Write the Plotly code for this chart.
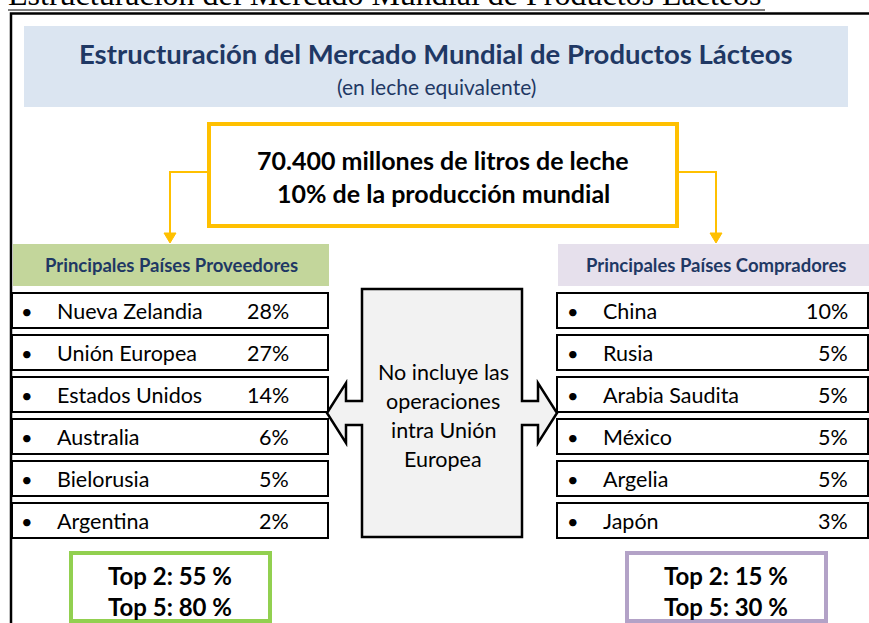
import plotly.graph_objects as go

# ---- data ----
page_title = "Estructuración del Mercado Mundial de Productos Lácteos"
band_title = "Estructuración del Mercado Mundial de Productos Lácteos"
band_subtitle = "(en leche equivalente)"
volume_lines = ["70.400 millones de litros de leche", "10% de la producción mundial"]
supplier_header = "Principales Países Proveedores"
buyer_header = "Principales Países Compradores"
suppliers = ["Nueva Zelandia", "Unión Europea", "Estados Unidos", "Australia", "Bielorusia", "Argentina"]
supplier_share = [28, 27, 14, 6, 5, 2]
buyers = ["China", "Rusia", "Arabia Saudita", "México", "Argelia", "Japón"]
buyer_share = [10, 5, 5, 5, 5, 3]
center_note = ["No incluye las", "operaciones", "intra Unión", "Europea"]
supplier_top = [("Top 2", 55), ("Top 5", 80)]
buyer_top = [("Top 2", 15), ("Top 5", 30)]

W, H = 869, 623
FONT = "Lato"
NAVY = "#1f3864"
YELLOW = "#ffc000"

shapes = []
ann = []

def rect(x0, y0, x1, y1, fill="rgba(0,0,0,0)", line="black", lw=2):
    shapes.append(dict(type="rect", x0=x0, y0=y0, x1=x1, y1=y1, xref="x", yref="y",
                       fillcolor=fill, line=dict(color=line, width=lw), layer="below"))

def path(d, fill="rgba(0,0,0,0)", line="black", lw=2):
    shapes.append(dict(type="path", path=d, xref="x", yref="y",
                       fillcolor=fill, line=dict(color=line, width=lw), layer="below"))

def text(x, y, t, size, color="black", bold=False, xa="center", ya="middle", family=FONT):
    ann.append(dict(x=x, y=y, xref="x", yref="y", text=(f"<b>{t}</b>" if bold else t),
                    showarrow=False, xanchor=xa, yanchor=ya,
                    font=dict(family=family, size=size, color=color)))

# page heading (serif, underlined, clipped at top)
text(6, 14, page_title, 32, family="Liberation Serif", xa="left", ya="bottom")
path("M 8 10 L 765 10", lw=1)

# outer frame
path(f"M 11 {H + 5} L 11 13.5 L {W + 5} 13.5", lw=2.5)

# title band
rect(24, 26, 848, 107, fill="#dbe5f1", line="#dbe5f1", lw=0)
text(436, 53, band_title, 27.5, color=NAVY, bold=True)
text(436, 86, band_subtitle, 21, color=NAVY)

# yellow volume box
rect(209, 124, 677, 226, fill="white", line=YELLOW, lw=4)
text(443, 160, volume_lines[0], 25, bold=True)
text(443, 193, volume_lines[1], 25, bold=True)

# connectors
path("M 209 172 L 170 172 L 170 234", line=YELLOW, lw=2)
path("M 164 233 L 176 233 L 170 243 Z", fill=YELLOW, line=YELLOW, lw=1)
path("M 677 172 L 716 172 L 716 234", line=YELLOW, lw=2)
path("M 710 233 L 722 233 L 716 243 Z", fill=YELLOW, line=YELLOW, lw=1)

# headers
rect(13, 244, 329, 286, fill="#c3d69b", line="#c3d69b", lw=0)
text(171, 265, supplier_header, 18.5, color=NAVY, bold=True)
rect(558, 244, W + 5, 286, fill="#e6e0ec", line="#e6e0ec", lw=0)
text(716, 265, buyer_header, 18.5, color=NAVY, bold=True)

# rows
ROW_TOP, PITCH, ROW_H = 293, 42, 35
for i, (name, v) in enumerate(zip(suppliers, supplier_share)):
    y0 = ROW_TOP + PITCH * i
    rect(12, y0, 328, y0 + ROW_H)
    yc = y0 + ROW_H / 2
    text(27, yc, "•", 20)
    text(55, yc, name, 21.5, xa="left")
    text(291, yc, f"{v}%", 21.5, xa="right")
for i, (name, v) in enumerate(zip(buyers, buyer_share)):
    y0 = ROW_TOP + PITCH * i
    rect(557, y0, 868, y0 + ROW_H)
    yc = y0 + ROW_H / 2
    text(573, yc, "•", 20)
    text(601, yc, name, 21.5, xa="left")
    text(850, yc, f"{v}%", 21.5, xa="right")

# center double arrow box
path("M 362 289 L 522 289 L 522 401 L 538 401 L 538 383 L 557 413 L 538 443 L 538 425 "
     "L 522 425 L 522 537 L 362 537 L 362 425 L 346 425 L 346 443 L 327 413 L 346 383 "
     "L 346 401 L 362 401 Z", fill="#f2f2f2", lw=2.5)
for k, line in enumerate(center_note):
    text(443, 372 + 29 * k, line, 21.5)

# top boxes
rect(71, 553, 270, 621, fill="white", line="#92d050", lw=4)
for k, (lab, v) in enumerate(supplier_top):
    text(170, 575 + 31 * k, f"{lab}: {v} %", 24, bold=True)
rect(627, 553, 826, 621, fill="white", line="#b3a2c7", lw=4)
for k, (lab, v) in enumerate(buyer_top):
    text(726, 575 + 31 * k, f"{lab}: {v} %", 24, bold=True)

fig = go.Figure()
fig.update_layout(
    width=W, height=H, margin=dict(l=0, r=0, t=0, b=0),
    paper_bgcolor="white", plot_bgcolor="white",
    xaxis=dict(range=[0, W], visible=False, fixedrange=True),
    yaxis=dict(range=[H, 0], visible=False, fixedrange=True),
    shapes=shapes, annotations=ann, showlegend=False,
)
fig.write_html("out.html", config={"displayModeBar": False},
               post_script="document.body.style.margin='0';document.body.style.overflow='hidden';")
